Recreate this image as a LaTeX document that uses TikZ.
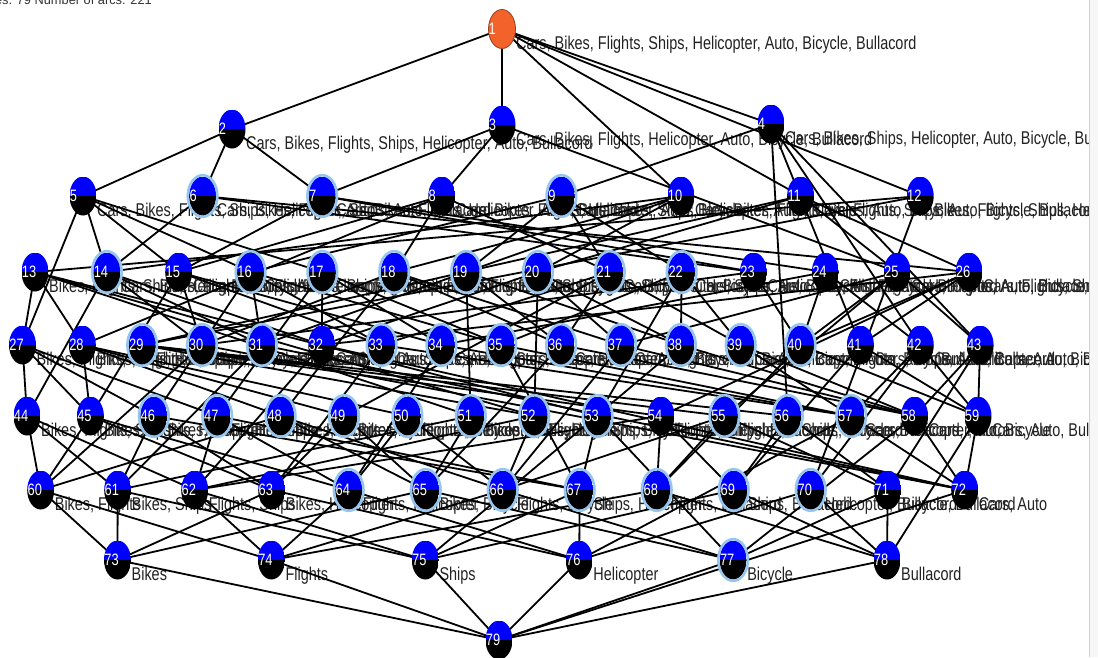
\documentclass[tikz,border=0pt]{standalone}
\usepackage{fontspec}
\setmainfont{Liberation Sans}[FakeStretch=0.78]
\newfontfamily\headfont{Liberation Sans}
\usetikzlibrary{shapes.geometric}

\pgfdeclarelayer{bg}
\pgfdeclarelayer{lbl}
\pgfdeclarelayer{edg}
\pgfsetlayers{bg,lbl,edg,main}

\definecolor{vblue}{RGB}{0,0,255}
\definecolor{topfill}{RGB}{242,98,42}
\definecolor{topline}{RGB}{150,62,30}
\definecolor{haloblue}{RGB}{150,198,240}
\definecolor{labelgray}{RGB}{34,34,34}

% each attribute is a prime; a concept is the product of its attributes
% (Cars and Auto always occur together and share the prime 2)
\expandafter\def\csname p@X\endcsname{2}
\expandafter\def\csname p@B\endcsname{3}
\expandafter\def\csname p@F\endcsname{5}
\expandafter\def\csname p@S\endcsname{7}
\expandafter\def\csname p@H\endcsname{11}
\expandafter\def\csname p@Y\endcsname{13}
\expandafter\def\csname p@L\endcsname{17}
\def\mulall#1{\ifx;#1\else*\csname p@#1\endcsname\expandafter\mulall\fi}
\def\defset#1#2{\expandafter\edef\csname s@#1\endcsname{\the\numexpr 1\mulall#2;\relax}}

\newif\ifleadin
\def\putitem#1#2#3{\ifnum\numexpr(#1/#2)*#2\relax=#1\relax\ifleadin\leadinfalse\else, \fi#3\fi}
\def\setlabel#1{\leadintrue\putitem{#1}{2}{Cars}\putitem{#1}{3}{Bikes}\putitem{#1}{5}{Flights}%
  \putitem{#1}{7}{Ships}\putitem{#1}{11}{Helicopter}\putitem{#1}{2}{Auto}%
  \putitem{#1}{13}{Bicycle}\putitem{#1}{17}{Bullacord}}

\newcount\cw
\newif\ifcover

% concepts of the lattice
\defset{1}{XBFSHYL}
\defset{2}{XBFSHL}\defset{3}{XBFHYL}\defset{4}{XBSHYL}
\defset{5}{XBFSH}\defset{6}{XBFSL}\defset{7}{XBFHL}\defset{8}{XBFHY}
\defset{9}{XBSHY}\defset{10}{XBFSY}\defset{11}{XFSYL}\defset{12}{BFSHYL}
\defset{13}{BFSHY}\defset{14}{XBFS}\defset{15}{XBFH}\defset{16}{XBSH}
\defset{17}{XFSH}\defset{18}{XBFY}\defset{19}{XBSY}\defset{20}{XFSY}
\defset{21}{XBHY}\defset{22}{XSHY}\defset{23}{XBFL}\defset{24}{XFHL}
\defset{25}{XFYL}\defset{26}{XFSL}
\defset{27}{BFSH}\defset{28}{BFHY}\defset{29}{FSYL}\defset{30}{XBF}
\defset{31}{XBS}\defset{32}{XFS}\defset{33}{XBH}\defset{34}{XFH}
\defset{35}{XSH}\defset{36}{XBY}\defset{37}{XFY}\defset{38}{XSY}
\defset{39}{XHY}\defset{40}{XFL}\defset{41}{XSL}\defset{42}{XHL}\defset{43}{XYL}
\defset{44}{BFS}\defset{45}{BFH}\defset{46}{BSH}\defset{47}{FSH}
\defset{48}{BFY}\defset{49}{BHY}\defset{50}{FHY}\defset{51}{BSY}
\defset{52}{FSY}\defset{53}{SHY}\defset{54}{FSL}\defset{55}{FYL}
\defset{56}{SYL}\defset{57}{XH}\defset{58}{XY}\defset{59}{XL}
\defset{60}{BF}\defset{61}{BS}\defset{62}{FS}\defset{63}{BH}\defset{64}{FH}
\defset{65}{BY}\defset{66}{FY}\defset{67}{SH}\defset{68}{FL}\defset{69}{SL}
\defset{70}{HL}\defset{71}{YL}\defset{72}{X}
\defset{73}{B}\defset{74}{F}\defset{75}{S}\defset{76}{H}\defset{77}{Y}\defset{78}{L}
\defset{79}{}

\tikzset{
  vtx/.style={ellipse, minimum width=27pt, minimum height=39pt, inner sep=0pt,
    path picture={
      \fill[vblue] (path picture bounding box.north west) rectangle (path picture bounding box.east);
      \fill[black] (path picture bounding box.west) rectangle (path picture bounding box.south east);}},
  topnode/.style={ellipse, minimum width=27pt, minimum height=39pt, inner sep=0pt,
    fill=topfill, draw=topline, line width=0.8pt},
  halo/.style={draw=haloblue, line width=2.6pt},
  num/.style={anchor=west, inner sep=0pt, xshift=0.4pt, text=white,
    font=\fontsize{16.5}{16.5}\selectfont},
  lbl/.style={anchor=base west, inner sep=0pt, text=labelgray,
    font=\fontsize{18.5}{20}\selectfont},
  link/.style={draw=black, line width=1.8pt},
}

\begin{document}
\begin{tikzpicture}[x=1pt,y=-1pt]
\path[use as bounding box] (0,0) rectangle (1098,657);
\begin{pgfonlayer}{bg}
  \fill[white] (0,0) rectangle (1098,657);
\end{pgfonlayer}

% vertices, level by level
\node[topnode] (n1) at (502,29) {};
\node[vtx] (n2) at (232,129) {};
\node[vtx] (n3) at (502,125) {};
\node[vtx] (n4) at (771,124) {};
\foreach \i [count=\k from 0] in {5,...,12}  \node[vtx] (n\i) at ({83+119.6*\k},196) {};
\foreach \i [count=\k from 0] in {13,...,26} \node[vtx] (n\i) at ({35+71.85*\k},272) {};
\foreach \i [count=\k from 0] in {27,...,43} \node[vtx] (n\i) at ({22.5+59.85*\k},345) {};
\foreach \i [count=\k from 0] in {44,...,59} \node[vtx] (n\i) at ({27+63.4*\k},416) {};
\foreach \i [count=\k from 0] in {60,...,72} \node[vtx] (n\i) at ({40.7+77*\k},490) {};
\foreach \i [count=\k from 0] in {73,...,78} \node[vtx] (n\i) at ({117.5+153.9*\k},560) {};
\node[vtx] (n79) at (499,640) {};

% highlighted vertices
\foreach \i in {6,7,9,14,16,17,18,19,20,21,22,29,30,31,33,34,35,36,37,38,39,40,
                46,47,48,49,50,51,52,53,55,56,57,64,65,66,67,68,69,70,77}
  \draw[halo] (n\i.center) ellipse [x radius=14.8pt, y radius=20.8pt];

% vertex numbers
\foreach \i in {1,...,79} \node[num] (m\i) at (n\i.west) {\i};

% attribute lists
\begin{pgfonlayer}{lbl}
\begin{scope}
  \clip (0,0) rectangle (1088,657);
  \foreach \i in {1,...,78}{
    \edef\val{\csname s@\i\endcsname}
    \node[lbl] (t\i) at ([shift={(14,20)}]n\i.center) {\setlabel{\val}};
  }
\end{scope}
\end{pgfonlayer}

% Hasse diagram: u -- v whenever v is covered by u
\begin{pgfonlayer}{edg}
\foreach \u in {1,...,79}{
  \foreach \v in {1,...,79}{
    \ifnum\u=\v\relax\else
      \edef\setU{\csname s@\u\endcsname}%
      \edef\setV{\csname s@\v\endcsname}%
      \ifnum\numexpr(\setU/\setV)*\setV\relax=\setU\relax
        \covertrue
        \cw=1
        \loop
          \edef\setW{\csname s@\the\cw\endcsname}%
          \ifnum\setW=\setU\relax\else\ifnum\setW=\setV\relax\else
            \ifnum\numexpr(\setU/\setW)*\setW\relax=\setU\relax
              \ifnum\numexpr(\setW/\setV)*\setV\relax=\setW\relax\coverfalse\fi
            \fi
          \fi\fi
          \advance\cw by 1
        \ifnum\cw<80 \repeat
        \ifcover\draw[link] (n\u.center) -- (n\v.center);\fi
      \fi
    \fi
  }
}
\end{pgfonlayer}

% header line and window edge
\node[anchor=base east, inner sep=0pt, text=black!80,
      font=\headfont\fontsize{12.8}{14}\selectfont] (hdr) at (152,4.5)
  {Number of nodes: 79 Number of arcs: 221};
\fill[black!3] (1089,0) rectangle (1098,657);
\draw[black!18, line width=0.8pt] (1089,0) -- (1089,657);
\end{tikzpicture}
\end{document}
